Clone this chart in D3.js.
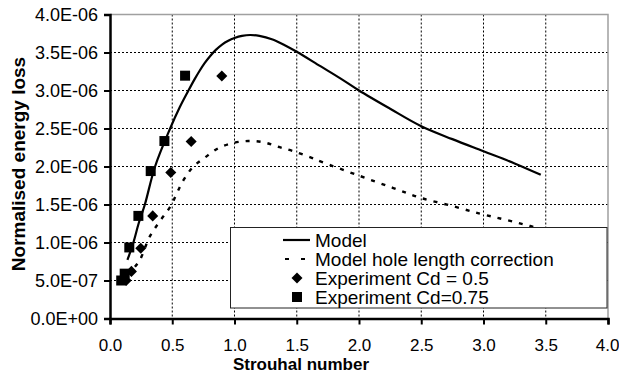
<!DOCTYPE html>
<html>
<head>
<meta charset="utf-8">
<script src="https://cdn.jsdelivr.net/npm/d3@7/dist/d3.min.js"></script>
<style>
  html, body { margin: 0; padding: 0; background: #fff; }
  svg { display: block; font-family: "Liberation Sans", Arial, sans-serif; }
</style>
</head>
<body>
<svg id="chart" width="619" height="377"></svg>
<script>
// Strouhal number vs normalised energy loss
const xTicks = [0, 0.5, 1.0, 1.5, 2.0, 2.5, 3.0, 3.5, 4.0];
const yTicks = [0, 0.5e-6, 1.0e-6, 1.5e-6, 2.0e-6, 2.5e-6, 3.0e-6, 3.5e-6, 4.0e-6];
const yTickLabels = ["0.0E+00", "5.0E-07", "1.0E-06", "1.5E-06", "2.0E-06", "2.5E-06", "3.0E-06", "3.5E-06", "4.0E-06"];

// Model (solid), energy in units of 1E-06
const modelSt = [0.14, 0.188, 0.23, 0.28, 0.362, 0.483, 0.56, 0.63, 0.68, 0.72, 0.76, 0.805, 0.85, 0.9, 0.95, 1.0, 1.06, 1.126, 1.2, 1.3, 1.4, 1.5, 1.69, 1.85, 2.0, 2.25, 2.5, 2.75, 3.0, 3.25, 3.46];
const modelE  = [0.77, 1.0, 1.25, 1.5, 2.0, 2.5, 2.78, 3.0, 3.15, 3.26, 3.36, 3.455, 3.535, 3.605, 3.655, 3.69, 3.718, 3.73, 3.718, 3.675, 3.6, 3.51, 3.32, 3.16, 3.0, 2.76, 2.53, 2.36, 2.2, 2.04, 1.89];

// Model hole length correction (dashed)
const corrSt = [0.2, 0.24, 0.32, 0.40, 0.483, 0.59, 0.67, 0.764, 0.87, 0.99, 1.11, 1.23, 1.35, 1.475, 1.61, 1.70, 2.0, 2.27, 2.49, 2.75, 2.97, 3.15, 3.32, 3.46];
const corrE  = [0.68, 0.77, 1.08, 1.28, 1.47, 1.82, 2.0, 2.12, 2.24, 2.31, 2.335, 2.32, 2.26, 2.2, 2.12, 2.06, 1.88, 1.72, 1.59, 1.48, 1.38, 1.31, 1.24, 1.18];

// Experiment Cd = 0.5 (diamonds)
const expA_St = [0.13, 0.172, 0.247, 0.343, 0.488, 0.652, 0.898];
const expA_E  = [0.50, 0.62, 0.925, 1.35, 1.92, 2.33, 3.19];

// Experiment Cd = 0.75 (squares)
const expB_St = [0.09, 0.118, 0.155, 0.228, 0.327, 0.437, 0.603];
const expB_E  = [0.50, 0.59, 0.935, 1.35, 1.94, 2.335, 3.195];

const legendLabels = ["Model", "Model hole length correction", "Experiment Cd = 0.5", "Experiment Cd=0.75"];

const svg = d3.select("#chart");
const m = { left: 110, right: 608, top: 14.5, bottom: 318.5 };

const x = d3.scaleLinear().domain([0, 4]).range([m.left, m.right]);
const y = d3.scaleLinear().domain([0, 4e-6]).range([m.bottom, m.top]);

const E = v => v * 1e-6;

// dotted grid
const grid = svg.append("g");
grid.selectAll("line.v").data(xTicks.slice(1, -1)).join("line")
  .attr("x1", d => x(d)).attr("x2", d => x(d))
  .attr("y1", m.top).attr("y2", m.bottom)
  .attr("stroke", "#000").attr("stroke-width", 1).attr("stroke-dasharray", "2,2");
grid.selectAll("line.h").data(yTicks.slice(1, -1)).join("line")
  .attr("x1", m.left).attr("x2", m.right)
  .attr("y1", d => y(d)).attr("y2", d => y(d))
  .attr("stroke", "#000").attr("stroke-width", 1).attr("stroke-dasharray", "2,2");

// plot frame (top & right)
svg.append("path")
  .attr("d", `M${m.left},${m.top}H${m.right}V${m.bottom}`)
  .attr("fill", "none").attr("stroke", "#a0a0a0").attr("stroke-width", 1.5);

// axes
const yAxis = d3.axisLeft(y).tickValues(yTicks).tickSize(6).tickPadding(6)
  .tickFormat((d, i) => yTickLabels[i]);
const gy = svg.append("g").attr("transform", `translate(${m.left},0)`).call(yAxis);
const xAxis = d3.axisBottom(x).tickValues(xTicks).tickSize(6).tickPadding(14)
  .tickFormat(d3.format(".1f"));
const gx = svg.append("g").attr("transform", `translate(0,${m.bottom})`).call(xAxis);

[gx, gy].forEach(g => {
  g.select(".domain").attr("stroke", "#000").attr("stroke-width", 2.5);
  g.selectAll(".tick line").attr("stroke", "#000").attr("stroke-width", 2);
  g.selectAll(".tick text").attr("fill", "#000")
    .attr("font-family", "Liberation Sans, Arial, sans-serif");
});
gy.selectAll(".tick text").attr("font-size", 18);
gx.selectAll(".tick text").attr("font-size", 17).attr("dy", "0.71em");
// keep the last x label inside the page edge
gx.selectAll(".tick text").filter(d => d === 4).attr("text-anchor", "end").attr("dx", 11);

// axis titles
svg.append("text").attr("x", 301).attr("y", 370).attr("text-anchor", "middle")
  .attr("font-size", 17).attr("font-weight", "bold").text("Strouhal number");
svg.append("text").attr("transform", `translate(25,164) rotate(-90)`).attr("text-anchor", "middle")
  .attr("font-size", 19).attr("font-weight", "bold").text("Normalised energy loss");

// curves
const line = d3.line().x(d => x(d[0])).y(d => y(E(d[1]))).curve(d3.curveCatmullRom.alpha(0.5));
svg.append("path").datum(d3.zip(corrSt, corrE)).attr("d", line)
  .attr("fill", "none").attr("stroke", "#000").attr("stroke-width", 2.4)
  .attr("stroke-dasharray", "4,7");
svg.append("path").datum(d3.zip(modelSt, modelE)).attr("d", line)
  .attr("fill", "none").attr("stroke", "#000").attr("stroke-width", 2.2);

// markers
const diamond = d3.symbol().type(d3.symbolDiamond2).size(78);
const square = d3.symbol().type(d3.symbolSquare).size(100);
svg.append("g").selectAll("path").data(d3.zip(expA_St, expA_E)).join("path")
  .attr("transform", d => `translate(${x(d[0])},${y(E(d[1]))})`)
  .attr("d", diamond).attr("fill", "#000");
svg.append("g").selectAll("path").data(d3.zip(expB_St, expB_E)).join("path")
  .attr("transform", d => `translate(${x(d[0])},${y(E(d[1]))})`)
  .attr("d", square).attr("fill", "#000");

// legend
const lg = svg.append("g");
lg.append("rect").attr("x", 230.5).attr("y", 227.5).attr("width", 376.5).attr("height", 80.5)
  .attr("fill", "#fff").attr("stroke", "#222").attr("stroke-width", 1);
const rowY = [240, 259, 278, 297];
lg.append("line").attr("x1", 283).attr("x2", 310).attr("y1", rowY[0]).attr("y2", rowY[0])
  .attr("stroke", "#000").attr("stroke-width", 2.2);
lg.append("line").attr("x1", 285).attr("x2", 310).attr("y1", rowY[1]).attr("y2", rowY[1])
  .attr("stroke", "#000").attr("stroke-width", 2.2).attr("stroke-dasharray", "4,12");
lg.append("path").attr("transform", `translate(297,${rowY[2]})`).attr("d", diamond).attr("fill", "#000");
lg.append("path").attr("transform", `translate(297,${rowY[3]})`).attr("d", square).attr("fill", "#000");
lg.selectAll("text").data(legendLabels).join("text")
  .attr("x", 315).attr("y", (d, i) => rowY[i]).attr("dy", "0.36em")
  .attr("font-size", 19).attr("fill", "#000").text(d => d);
</script>
</body>
</html>
